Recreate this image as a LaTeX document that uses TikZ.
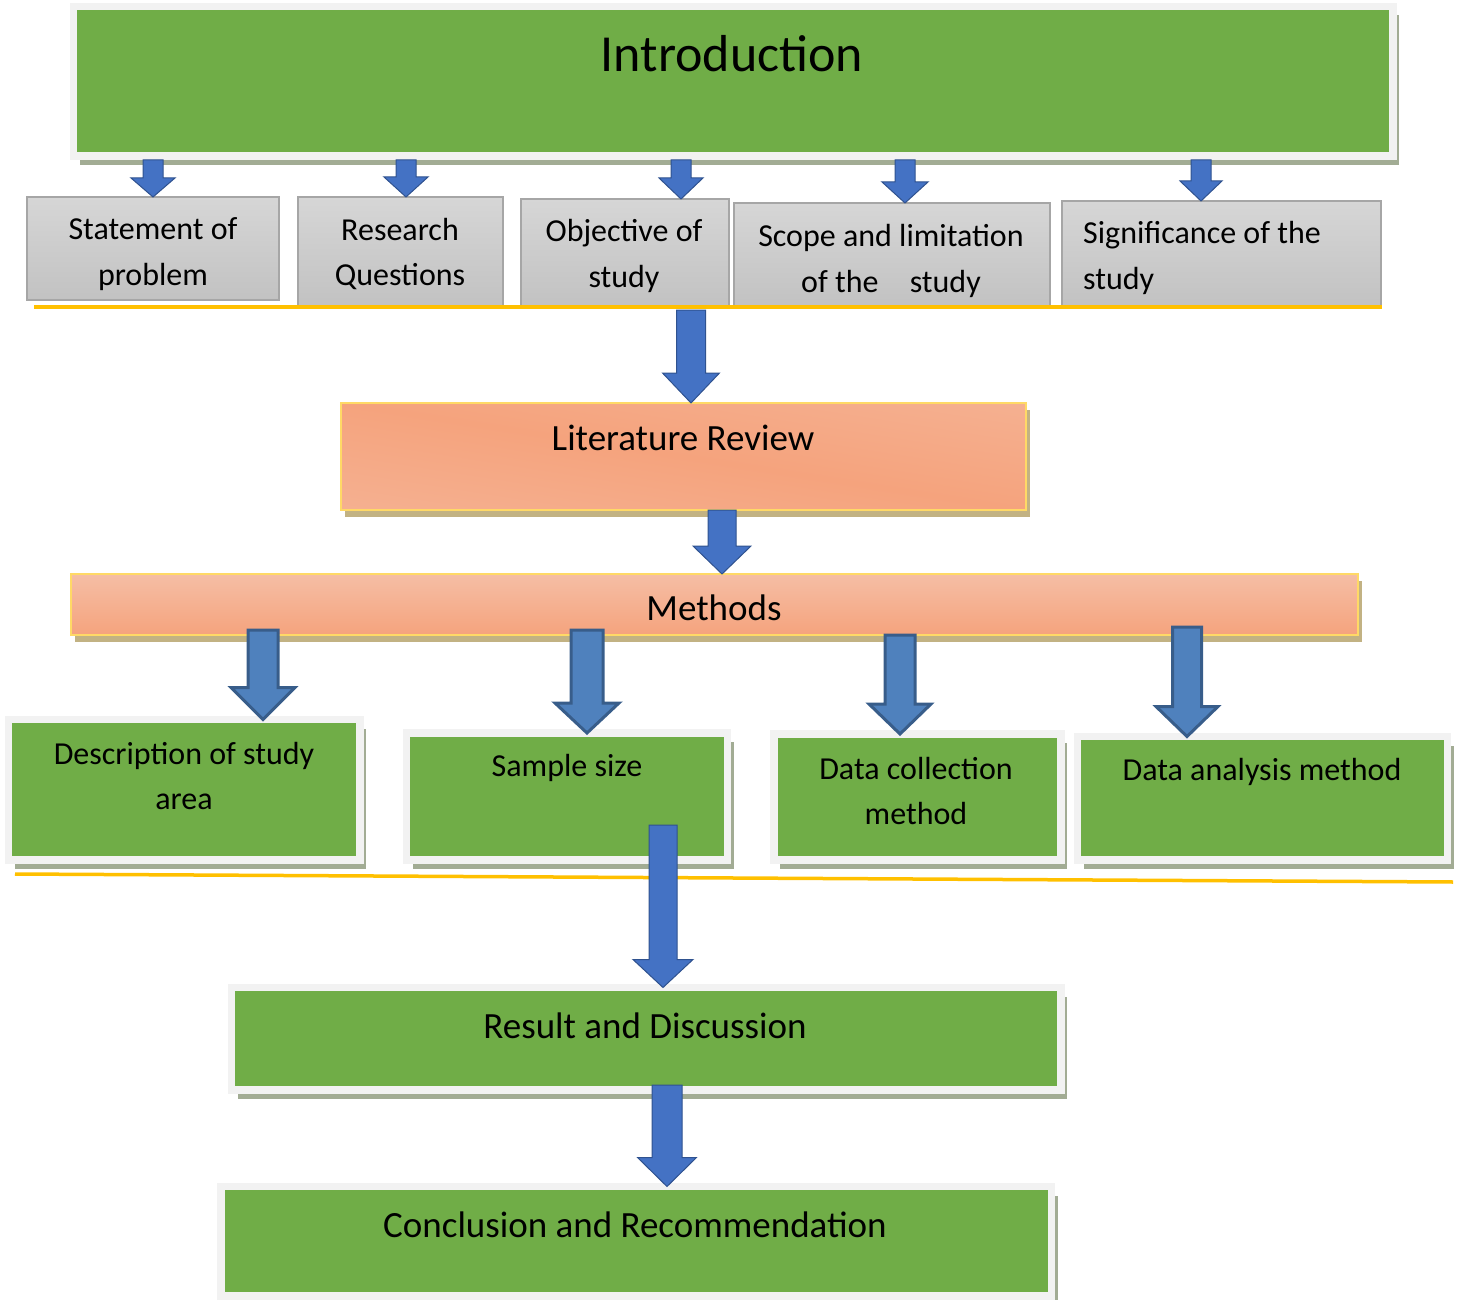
\documentclass[tikz,border=0pt]{standalone}
\usepackage{fontspec}
\setmainfont{Carlito}
\usetikzlibrary{calc,shadows}
\definecolor{boxgreen}{HTML}{70AD47}
\definecolor{framegray}{HTML}{F2F2F2}
\definecolor{shadegreen}{HTML}{A2AC94}
\definecolor{shadetan}{HTML}{C2B283}
\definecolor{grayT}{HTML}{D6D6D6}
\definecolor{grayB}{HTML}{C2C2C2}
\definecolor{grayline}{HTML}{A6A6A6}
\definecolor{orD}{HTML}{F5A37D}
\definecolor{orL}{HTML}{F5BEA5}
\definecolor{gold}{HTML}{FFD966}
\definecolor{lineyel}{HTML}{FFC000}
\definecolor{arrblue}{HTML}{4472C4}
\definecolor{arrdark}{HTML}{2F528F}
\definecolor{marrblue}{HTML}{4F81BD}
\definecolor{marrdark}{HTML}{385D8A}
\newcommand{\fatarrow}[6]{\draw[#1] let \p1=#2, \p2=#3 in (\x1-#4pt,\y1)--(\x1-#4pt,\y2+#6pt)--(\x1-#5pt,\y2+#6pt)--(\x1,\y2)--(\x1+#5pt,\y2+#6pt)--(\x1+#4pt,\y2+#6pt)--(\x1+#4pt,\y1)--cycle;}
\tikzset{
  greenbox/.style={fill=boxgreen,draw=framegray,line width=7.5pt,outer sep=0pt,inner sep=0pt,drop shadow={shadow xshift=6pt,shadow yshift=-9pt,fill=shadegreen,opacity=1}},
  graybox/.style={top color=grayT,bottom color=grayB,draw=grayline,line width=1.5pt,outer sep=0pt,inner sep=0pt},
  orangebox/.style={draw=gold,line width=2.5pt,outer sep=0pt,inner sep=0pt,drop shadow={shadow xshift=4pt,shadow yshift=-7pt,fill=shadetan,opacity=1}},
  diagshade/.style={fill=orD,path picture={\shade[transform canvas={rotate around={-8.9:(path picture bounding box.center)}},top color=orL,bottom color=orL,middle color=orD] ($(path picture bounding box.center)+(-450,-215)$) rectangle ++(900,430);}},
  txtbig/.style={inner sep=0pt,font=\fontsize{52}{60}\selectfont},
  txtmid/.style={inner sep=0pt,font=\fontsize{37}{44}\selectfont},
  txtsm/.style={inner sep=0pt,align=center,font=\fontsize{32}{45.5}\selectfont},
  yline/.style={draw=lineyel,line width=3.5pt},
  blk/.style={fill=arrblue,draw=arrdark,line width=1pt,line join=miter},
  mblk/.style={fill=marrblue,draw=marrdark,line width=3pt,line join=miter}
}
\begin{document}
\begin{tikzpicture}[x=1pt,y=-1pt]
\useasboundingbox (0,0) rectangle (1460,1300);
\node[greenbox,minimum width=1319.5pt,minimum height=149.5pt] (intro) at (733.25,81.25) {};
\node[graybox,minimum width=252pt,minimum height=103pt] (g1) at (153,248.5) {};
\node[graybox,minimum width=205pt,minimum height=109pt] (g2) at (400.5,251.5) {};
\node[graybox,minimum width=208pt,minimum height=107pt] (g3) at (625,252.5) {};
\node[graybox,minimum width=316pt,minimum height=103pt] (g4) at (892,254.5) {};
\node[graybox,minimum width=319pt,minimum height=105pt] (g5) at (1221.5,253.5) {};
\node[orangebox,diagshade,minimum width=685pt,minimum height=107pt] (lit) at (683.5,456.5) {};
\node[orangebox,top color=orL,bottom color=orD,minimum width=1287pt,minimum height=61pt] (meth) at (714.5,604.5) {};
\node[greenbox,minimum width=351.5pt,minimum height=140.5pt] (d1) at (184.25,789.75) {};
\node[greenbox,minimum width=321pt,minimum height=127pt] (d2) at (567,796.5) {};
\node[greenbox,minimum width=287pt,minimum height=126pt] (d3) at (917.5,797) {};
\node[greenbox,minimum width=370pt,minimum height=123.5pt] (d4) at (1262.5,798.25) {};
\node[greenbox,minimum width=829.5pt,minimum height=102.5pt] (res) at (646.25,1038.75) {};
\node[greenbox,minimum width=830.5pt,minimum height=109.5pt] (con) at (636.25,1241.25) {};
\node[txtbig] (tintro) at (732,54) {Introduction};
\node[txtsm] (tg1) at (153,254) {Statement of\\problem};
\node[txtsm] (tg2) at (400,254) {Research\\Questions};
\node[txtsm] (tg3) at (624,256) {Objective of\\study};
\node[txtsm] (tg4) at (891,261) {Scope and limitation\\of the\hspace{24pt} study};
\node[txtsm,align=left,anchor=west] (tg5) at (1083,258) {Significance of the\\study};
\node[txtmid] (tlit) at (683,438) {Literature Review};
\node[txtmid] (tmeth) at (714,608) {Methods};
\node[txtsm] (td1) at (184,776) {Description of study\\area};
\node[txtsm] (td2) at (567,768) {Sample size};
\node[txtsm] (td3) at (916,791) {Data collection\\method};
\node[txtsm] (td4) at (1262,772) {Data analysis method};
\node[txtmid] (tres) at (645,1026) {Result and Discussion};
\node[txtmid] (tcon) at (635,1225) {Conclusion and Recommendation};
\draw[yline] (34,307)--(1382,307);
\draw[yline] (15,874)--(1453,882);
\fatarrow{blk}{($(153,0 |- intro.south)+(0,4)$)}{(153,0 |- g1.north)}{10}{22}{19}
\fatarrow{blk}{($(406,0 |- intro.south)+(0,4)$)}{(406,0 |- g2.north)}{10}{22}{20}
\fatarrow{blk}{($(681,0 |- intro.south)+(0,4)$)}{(681,0 |- g3.north)}{10}{22}{21}
\fatarrow{blk}{($(905,0 |- intro.south)+(0,4)$)}{(905,0 |- g4.north)}{10}{23}{21}
\fatarrow{blk}{($(1201,0 |- intro.south)+(0,4)$)}{(1201,0 |- g5.north)}{10}{21}{20}
\fatarrow{blk}{($(691,0 |- g3.south)+(0,4)$)}{(691,0 |- lit.north)}{14.5}{28.5}{30}
\fatarrow{blk}{(722,0 |- lit.south)}{(722,0 |- meth.north)}{14}{29}{28}
\fatarrow{mblk}{($(263,0 |- meth.south)+(0,-5)$)}{(263,0 |- d1.north)}{15}{32}{32}
\fatarrow{mblk}{($(587,0 |- meth.south)+(0,-5)$)}{(587,0 |- d2.north)}{16}{32}{30}
\fatarrow{mblk}{(900,0 |- meth.south)}{(900,0 |- d3.north)}{15}{31}{30}
\fatarrow{mblk}{($(1187,0 |- meth.south)+(0,-8)$)}{(1187,0 |- d4.north)}{14.5}{31}{30}
\fatarrow{blk}{($(663,0 |- d2.south)+(0,-35)$)}{(663,0 |- res.north)}{14}{30}{28}
\fatarrow{blk}{($(667,0 |- res.south)+(0,-5)$)}{(667,0 |- con.north)}{15}{29.5}{29}
\end{tikzpicture}
\end{document}
